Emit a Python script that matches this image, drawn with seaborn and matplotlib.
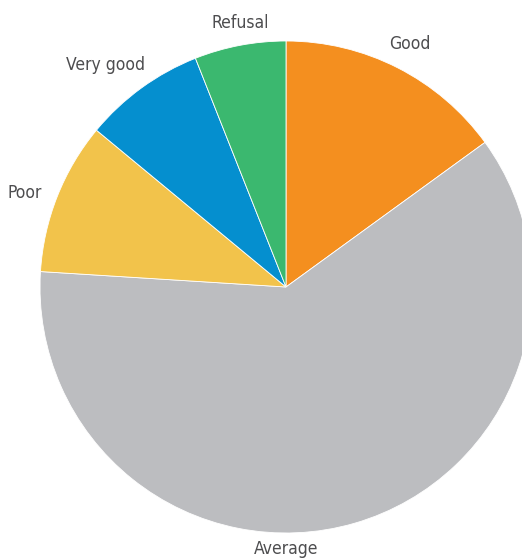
import matplotlib
matplotlib.use("Agg")
import matplotlib.pyplot as plt
import seaborn as sns

categories = ["Good", "Average", "Poor", "Very good", "Refusal"]
values = [15, 61, 10, 8, 6]
colors = ["#F48F1F", "#BCBDC0", "#F2C34B", "#058FCF", "#3BB86F"]

# label positions in units of pie radius (layout only)
label_pos = {
    "Good": (0.504, 0.988),
    "Average": (0.0, -1.065),
    "Poor": (-1.061, 0.382),
    "Very good": (-0.732, 0.902),
    "Refusal": (-0.187, 1.073),
}

sns.set_style("white")
plt.rcParams["font.family"] = ["DejaVu Sans"]

W, H = 522, 559
fig = plt.figure(figsize=(W / 100, H / 100), dpi=100)
cx, cy, r = 286, 287, 246
ax = fig.add_axes([(cx - r) / W, (H - cy - r) / H, 2 * r / W, 2 * r / H])
wedges, _ = ax.pie(values, colors=colors, startangle=90, counterclock=False,
                   radius=1, wedgeprops=dict(edgecolor="white", linewidth=0.6))
for w in wedges:
    w.set_clip_on(False)
ax.set_xlim(-1, 1)
ax.set_ylim(-1, 1)
ax.set_aspect("auto")
ax.axis("off")
for cat in categories:
    x, y = label_pos[cat]
    ax.text(x, y, cat, ha="center", va="center", fontsize=12.5, color="#4D4D4F",
            fontstretch="condensed", clip_on=False)

fig.savefig("out.png", dpi=100)
